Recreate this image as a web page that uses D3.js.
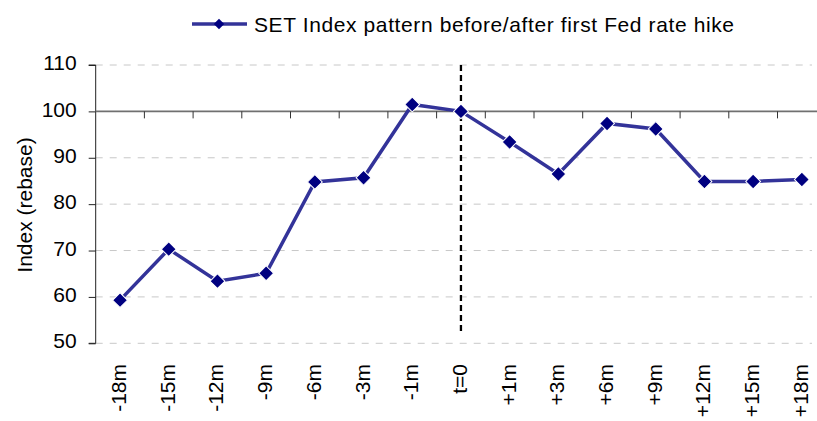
<!DOCTYPE html>
<html>
<head>
<meta charset="utf-8">
<script src="https://cdn.jsdelivr.net/npm/d3@7"></script>
<style>
  body { margin: 0; background: #fff; }
  text { font-family: "Liberation Sans", Arial, sans-serif; fill: #000; }
</style>
</head>
<body>
<div id="chart"></div>
<script>
const categories = ["-18m", "-15m", "-12m", "-9m", "-6m", "-3m", "-1m", "t=0",
  "+1m", "+3m", "+6m", "+9m", "+12m", "+15m", "+18m"];
const setIndex = [59.3, 70.3, 63.4, 65.1, 84.8, 85.7, 101.5, 100,
  93.4, 86.5, 97.4, 96.2, 84.9, 84.9, 85.3];
const yTicks = [50, 60, 70, 80, 90, 100, 110];
const seriesName = "SET Index pattern before/after first Fed rate hike";

var width = 817,
    height = 421;
const svg = d3.select("#chart")
  .append("svg")
    .attr("width", width)
    .attr("height", height);

const plotLeft = 95.7, plotRight = 826.2, plotTop = 65, plotBottom = 343.3;

const x = d3.scaleBand().domain(categories).range([plotLeft, plotRight]);
const y = d3.scaleLinear().domain([50, 110]).range([plotBottom, plotTop]);
const cx = d => x(d) + x.bandwidth() / 2;

// gridlines
svg.append("g")
  .selectAll("line")
  .data(yTicks.filter(v => v !== 100))
  .join("line")
    .attr("x1", plotLeft).attr("x2", 812)
    .attr("y1", d => y(d)).attr("y2", d => y(d))
    .attr("stroke", "#c8c8c8")
    .attr("stroke-width", 1)
    .attr("stroke-dasharray", "7,7");

// y axis
const yAxis = svg.append("g")
  .attr("transform", `translate(${plotLeft},0)`)
  .call(d3.axisLeft(y).tickValues(yTicks).tickSize(7).tickPadding(12));
yAxis.select(".domain").attr("stroke", "#222").attr("d", `M-7,${plotTop}H0V${plotBottom}H-7`);
yAxis.selectAll(".tick line").attr("stroke", "#222");
yAxis.selectAll(".tick text")
  .attr("font-size", 21)
  .attr("dy", "0.22em")
  .attr("font-family", "Liberation Sans, Arial, sans-serif")
  .attr("fill", "#000");

// x axis crosses at 100, ticks between categories
const xAxisY = y(100);
svg.append("line")
  .attr("x1", plotLeft).attr("x2", plotRight)
  .attr("y1", xAxisY).attr("y2", xAxisY)
  .attr("stroke", "#707070").attr("stroke-width", 1.6);
svg.append("g")
  .selectAll("line")
  .data(categories.slice(1))
  .join("line")
    .attr("x1", d => x(d)).attr("x2", d => x(d))
    .attr("y1", xAxisY).attr("y2", xAxisY + 7)
    .attr("stroke", "#333");

// x labels (rotated)
svg.append("g")
  .selectAll("text")
  .data(categories)
  .join("text")
    .attr("transform", d => `translate(${cx(d) + 6},364) rotate(-90)`)
    .attr("text-anchor", "end")
    .attr("font-size", 21)
    .text(d => d);

// y title
svg.append("text")
  .attr("transform", "translate(32,205) rotate(-90)")
  .attr("text-anchor", "middle")
  .attr("font-size", 21)
  .text("Index (rebase)");

// vertical dashed line at t=0
svg.append("line")
  .attr("x1", cx("t=0")).attr("x2", cx("t=0"))
  .attr("y1", plotTop).attr("y2", 332)
  .attr("stroke", "#000")
  .attr("stroke-width", 2.3)
  .attr("stroke-dasharray", "6,4");

// series line
const line = d3.line()
  .x((d, i) => cx(categories[i]))
  .y(d => y(d));
svg.append("path")
  .datum(setIndex)
  .attr("fill", "none")
  .attr("stroke", "#333399")
  .attr("stroke-width", 3.5)
  .attr("d", line);

const diamond = d3.symbol().type(d3.symbolSquare).size(110);
svg.append("g")
  .selectAll("path")
  .data(setIndex)
  .join("path")
    .attr("transform", (d, i) => `translate(${cx(categories[i])},${y(d)}) rotate(45)`)
    .attr("d", diamond)
    .attr("fill", "#000080")
    .attr("stroke", "#fff")
    .attr("stroke-width", 1);

// legend
const lg = svg.append("g").attr("transform", "translate(192,24)");
lg.append("line").attr("x1", 0).attr("x2", 55).attr("y1", 0).attr("y2", 0)
  .attr("stroke", "#333399").attr("stroke-width", 3.5);
lg.append("path").attr("d", d3.symbol().type(d3.symbolSquare).size(55))
  .attr("transform", "translate(27,0) rotate(45)")
  .attr("fill", "#000080");
lg.append("text").attr("x", 62).attr("y", 7.5)
  .attr("font-size", 21)
  .attr("textLength", 480)
  .attr("lengthAdjust", "spacing")
  .text(seriesName);
</script>
</body>
</html>
